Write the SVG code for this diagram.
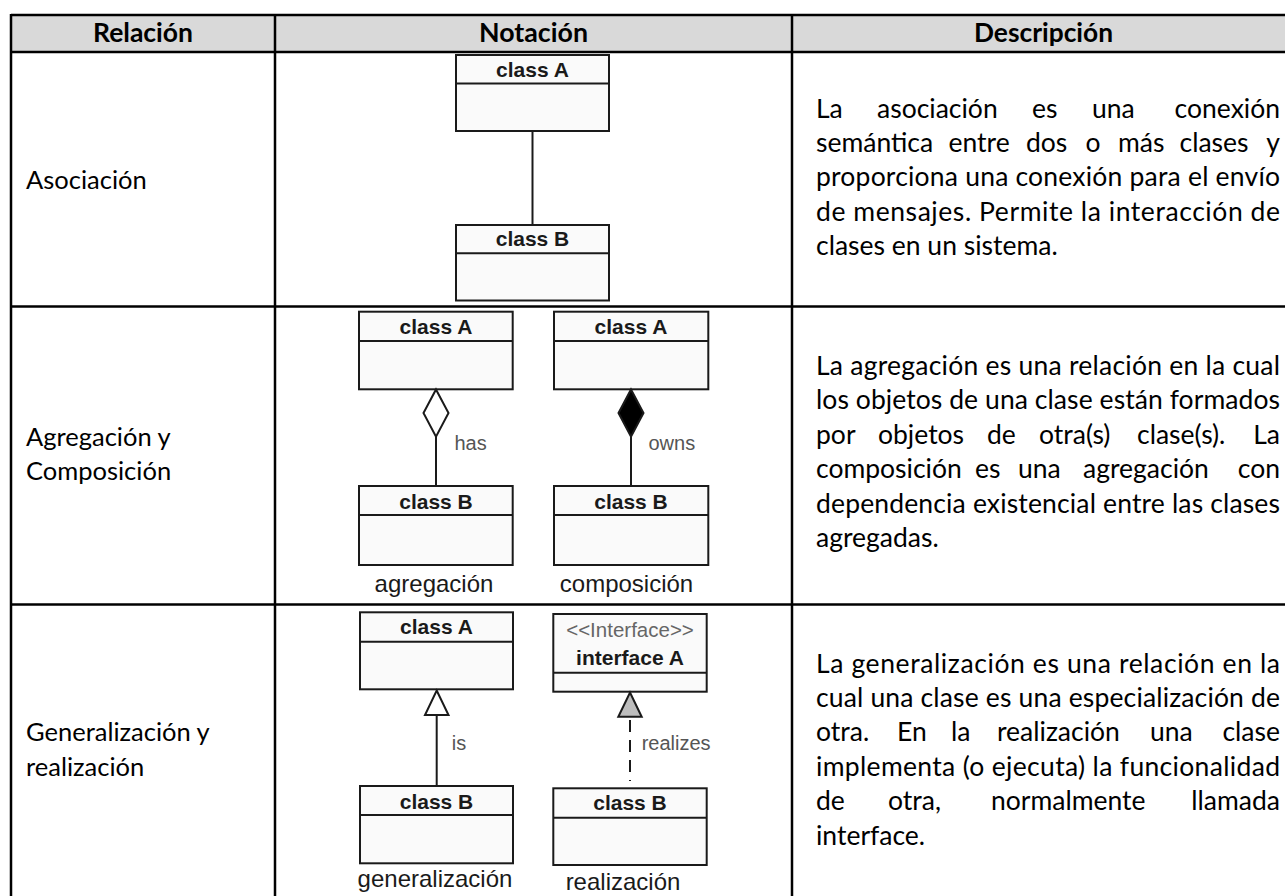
<svg xmlns="http://www.w3.org/2000/svg" width="1285" height="896" viewBox="0 0 1285 896">
<style>
.bg{fill:#fff}
.hdrfill{fill:#d9d9d9}
.grid{stroke:#000;stroke-width:2.5;fill:none}
.hdr{font-family:Lato,'Noto Sans',sans-serif;font-weight:700;font-size:26px;text-anchor:middle;fill:#000}
.rel{font-family:Lato,'Noto Sans',sans-serif;font-size:25.5px;fill:#000}
.cell{font-family:Lato,'Noto Sans',sans-serif;font-size:26.5px;fill:#000}
.end{text-anchor:end}
.box{fill:#fafafa;stroke:#1a1a1a;stroke-width:2}
.sep{stroke:#1a1a1a;stroke-width:2}
.cname{font-family:'Liberation Sans',Arial,sans-serif;font-weight:700;font-size:21px;text-anchor:middle;fill:#1a1a1a}
.stereo{font-family:'Liberation Sans',Arial,sans-serif;font-size:20.5px;text-anchor:middle;fill:#666}
.lbl{font-family:'Liberation Sans',Arial,sans-serif;font-size:20px;fill:#555}
.cap{font-family:'Liberation Sans',Arial,sans-serif;font-size:24px;text-anchor:middle;fill:#1a1a1a}
.conn{stroke:#1a1a1a;stroke-width:2;fill:none}
.dash{stroke:#1a1a1a;stroke-width:2;fill:none;stroke-dasharray:12 8}
</style>
<rect class="bg" x="0" y="0" width="1285" height="896"/>

<g id="table">
  <rect class="hdrfill" x="11" y="15" width="1274" height="37"/>
  <line class="grid" x1="11" y1="15" x2="1285" y2="15"/>
  <line class="grid" x1="11" y1="52" x2="1285" y2="52"/>
  <line class="grid" x1="11" y1="306.5" x2="1285" y2="306.5"/>
  <line class="grid" x1="11" y1="604.5" x2="1285" y2="604.5"/>
  <line class="grid" x1="11" y1="14" x2="11" y2="896"/>
  <line class="grid" x1="275" y1="14" x2="275" y2="896"/>
  <line class="grid" x1="792" y1="14" x2="792" y2="896"/>
</g>

<g id="header">
  <text class="hdr" x="143" y="42" textLength="100" lengthAdjust="spacingAndGlyphs">Relación</text>
  <text class="hdr" x="533.5" y="42" textLength="109" lengthAdjust="spacingAndGlyphs">Notación</text>
  <text class="hdr" x="1043.5" y="42" textLength="139" lengthAdjust="spacingAndGlyphs">Descripción</text>
</g>

<g id="rel-asociacion">
  <text class="rel" x="26" y="189.3">Asociación</text>
</g>
<g id="rel-agregacion">
  <text class="rel" x="26" y="446">Agregación y</text>
  <text class="rel" x="26" y="480.4">Composición</text>
</g>
<g id="rel-generalizacion">
  <text class="rel" x="26" y="741.3">Generalización y</text>
  <text class="rel" x="26" y="775.7">realización</text>
</g>

<g id="desc-asociacion">
  <text class="cell" y="117.5"><tspan x="816">La</tspan><tspan x="877">asociación</tspan><tspan x="1032">es</tspan><tspan x="1092">una</tspan><tspan class="end" x="1280">conexión</tspan></text>
  <text class="cell" y="152"><tspan x="816">semántica</tspan><tspan x="948.5">entre</tspan><tspan x="1026">dos</tspan><tspan x="1085.5">o</tspan><tspan x="1118">más</tspan><tspan x="1179.5">clases</tspan><tspan class="end" x="1280">y</tspan></text>
  <text class="cell" x="816" y="186.3" textLength="464" lengthAdjust="spacing">proporciona una conexión para el envío</text>
  <text class="cell" x="816" y="220.7" textLength="464" lengthAdjust="spacing">de mensajes. Permite la interacción de</text>
  <text class="cell" x="816" y="255">clases en un sistema.</text>
</g>

<g id="desc-agregacion">
  <text class="cell" x="816" y="375" textLength="464" lengthAdjust="spacing">La agregación es una relación en la cual</text>
  <text class="cell" x="816" y="409.4" textLength="464" lengthAdjust="spacing">los objetos de una clase están formados</text>
  <text class="cell" y="443.8"><tspan x="816">por</tspan><tspan x="878">objetos</tspan><tspan x="987">de</tspan><tspan x="1039">otra(s)</tspan><tspan x="1137">clase(s).</tspan><tspan class="end" x="1280">La</tspan></text>
  <text class="cell" y="478.2"><tspan x="816">composición</tspan><tspan x="975">es</tspan><tspan x="1018">una</tspan><tspan x="1083">agregación</tspan><tspan class="end" x="1280">con</tspan></text>
  <text class="cell" x="816" y="512.6" textLength="464" lengthAdjust="spacing">dependencia existencial entre las clases</text>
  <text class="cell" x="816" y="547">agregadas.</text>
</g>

<g id="desc-generalizacion">
  <text class="cell" x="816" y="672.5" textLength="464" lengthAdjust="spacing">La generalización es una relación en la</text>
  <text class="cell" x="816" y="706.9" textLength="464" lengthAdjust="spacing">cual una clase es una especialización de</text>
  <text class="cell" y="741.3"><tspan x="816">otra.</tspan><tspan x="897">En</tspan><tspan x="951">la</tspan><tspan x="997">realización</tspan><tspan x="1150">una</tspan><tspan class="end" x="1280">clase</tspan></text>
  <text class="cell" x="816" y="775.7" textLength="464" lengthAdjust="spacing">implementa (o ejecuta) la funcionalidad</text>
  <text class="cell" y="810.1"><tspan x="816">de</tspan><tspan x="888">otra,</tspan><tspan x="991">normalmente</tspan><tspan class="end" x="1280">llamada</tspan></text>
  <text class="cell" x="816" y="844.5">interface.</text>
</g>

<!-- Row 1: association -->
<g id="assoc-classA">
  <rect class="box" x="456" y="55" width="153" height="76"/>
  <line class="sep" x1="456" y1="83.5" x2="609" y2="83.5"/>
  <text class="cname" x="532.5" y="77">class A</text>
</g>
<g id="assoc-classB">
  <rect class="box" x="456" y="225" width="153" height="75.5"/>
  <line class="sep" x1="456" y1="253.3" x2="609" y2="253.3"/>
  <text class="cname" x="532.5" y="246">class B</text>
</g>

<!-- Row 2: aggregation / composition -->
<g id="aggr-classA">
  <rect class="box" x="359" y="311.7" width="153.7" height="77.6"/>
  <line class="sep" x1="359" y1="341" x2="512.7" y2="341"/>
  <text class="cname" x="436" y="334">class A</text>
</g>
<g id="aggr-classB">
  <rect class="box" x="359" y="486" width="153.7" height="79"/>
  <line class="sep" x1="359" y1="515" x2="512.7" y2="515"/>
  <text class="cname" x="436" y="509">class B</text>
</g>
<g id="aggr-caption"><text class="cap" x="434" y="591.5">agregación</text></g>

<g id="comp-classA">
  <rect class="box" x="554" y="311.7" width="154.3" height="77.6"/>
  <line class="sep" x1="554" y1="341" x2="708.3" y2="341"/>
  <text class="cname" x="631" y="334">class A</text>
</g>
<g id="comp-classB">
  <rect class="box" x="554" y="486" width="154.3" height="79"/>
  <line class="sep" x1="554" y1="515" x2="708.3" y2="515"/>
  <text class="cname" x="631" y="509">class B</text>
</g>
<g id="comp-caption"><text class="cap" x="626.5" y="591.5">composición</text></g>

<!-- Row 3: generalization / realization -->
<g id="gen-classA">
  <rect class="box" x="360" y="612.3" width="153" height="77"/>
  <line class="sep" x1="360" y1="641.7" x2="513" y2="641.7"/>
  <text class="cname" x="436.5" y="634">class A</text>
</g>
<g id="gen-classB">
  <rect class="box" x="360" y="786" width="153" height="77.3"/>
  <line class="sep" x1="360" y1="815" x2="513" y2="815"/>
  <text class="cname" x="436.5" y="808.5">class B</text>
</g>
<g id="gen-caption"><text class="cap" x="435" y="886.5">generalización</text></g>

<g id="real-interfaceA">
  <rect class="box" x="553.3" y="614" width="153.4" height="77.7"/>
  <line class="sep" x1="553.3" y1="672.7" x2="706.7" y2="672.7"/>
  <text class="stereo" x="630" y="637">&lt;&lt;Interface&gt;&gt;</text>
  <text class="cname" x="630" y="665">interface A</text>
</g>
<g id="real-classB">
  <rect class="box" x="553.3" y="788.3" width="153.4" height="76.7"/>
  <line class="sep" x1="553.3" y1="817.7" x2="706.7" y2="817.7"/>
  <text class="cname" x="630" y="810">class B</text>
</g>
<g id="real-caption"><text class="cap" x="623" y="890">realización</text></g>

<g id="connectors">
  <line class="conn" x1="532.5" y1="131" x2="532.5" y2="225"/>

  <line class="conn" x1="436" y1="436.7" x2="436" y2="486"/>
  <polygon class="conn" style="fill:#fff" points="436,389.5 448.5,413 436,436.7 423.5,413"/>
  <text class="lbl" x="454.5" y="450">has</text>

  <line class="conn" x1="631" y1="436.7" x2="631" y2="486"/>
  <polygon class="conn" style="fill:#000" points="631,389.5 643.5,413 631,436.7 618.5,413"/>
  <text class="lbl" x="648.5" y="450">owns</text>

  <line class="conn" x1="436.7" y1="715" x2="436.7" y2="786"/>
  <polygon class="conn" style="fill:#fff" points="436.7,690.5 448.5,715 425,715"/>
  <text class="lbl" x="451.7" y="750">is</text>

  <line class="dash" x1="630" y1="720" x2="630" y2="781"/>
  <polygon class="conn" style="fill:#bdbdbd" points="630,692.5 641.7,716.7 618.3,716.7"/>
  <text class="lbl" x="641.7" y="750">realizes</text>
</g>
</svg>
